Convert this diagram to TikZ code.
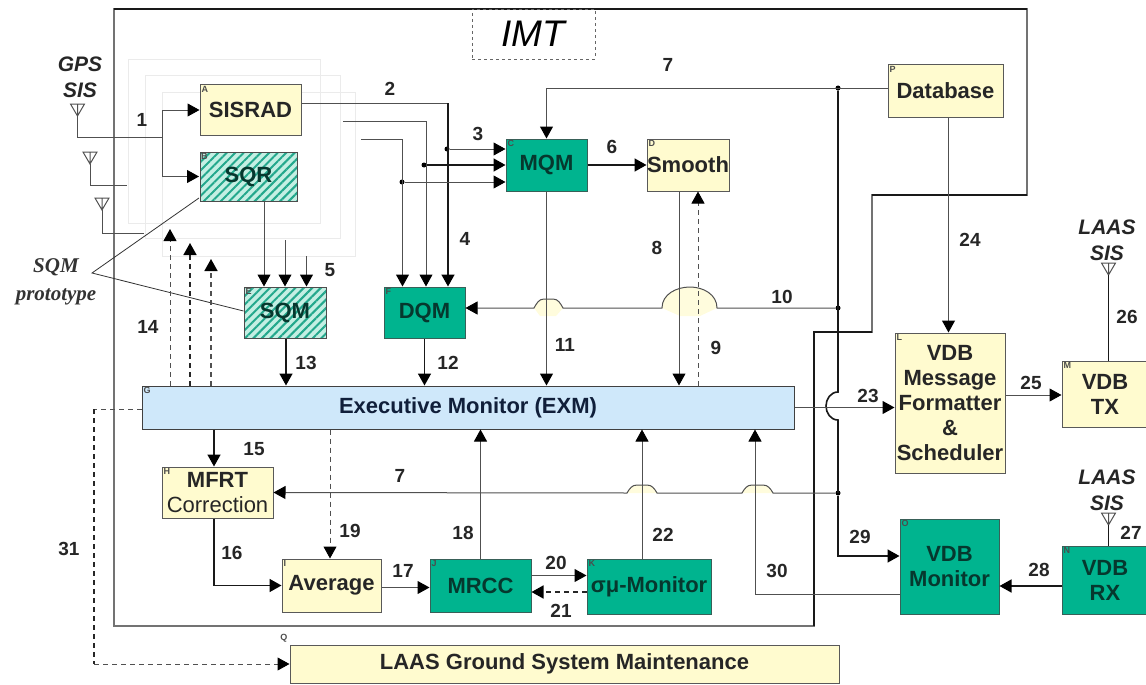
\documentclass[tikz,border=0pt]{standalone}
\usepackage{fontspec}
\setmainfont{Liberation Sans}
\newfontfamily\protofont{Liberation Serif}
\usetikzlibrary{arrows.meta,patterns.meta}
\definecolor{paleyellow}{HTML}{FFFBCF}
\definecolor{tealbox}{HTML}{00B48F}
\definecolor{tealtext}{HTML}{06382E}
\definecolor{hatchbase}{HTML}{C4EFE3}
\definecolor{hatchline}{HTML}{23A88C}
\definecolor{exmblue}{HTML}{CFE8FA}
\definecolor{exmtext}{HTML}{101F3A}
\definecolor{linegray}{HTML}{505050}
\tikzset{
  yellowbox/.style={draw=black!65,line width=1,fill=paleyellow,inner sep=0,align=center,text=black!85,font=\fontsize{22}{25}\selectfont\bfseries},
  tealnode/.style={draw=tealtext!80,line width=1,fill=tealbox,inner sep=0,align=center,text=tealtext,font=\fontsize{22}{25}\selectfont\bfseries},
  hatchbox/.style={draw=black!70,line width=1,preaction={fill=hatchbase},pattern={Lines[angle=45,distance=6pt,line width=2pt]},pattern color=hatchline,inner sep=0,text=tealtext,font=\fontsize{22}{25}\selectfont\bfseries},
  exmbox/.style={draw=black!75,line width=1,fill=exmblue,inner sep=0,text=exmtext,font=\fontsize{22}{25}\selectfont\bfseries},
  tag/.style={anchor=north west,inner sep=2,font=\fontsize{9}{9}\selectfont\bfseries,text=black!70},
  num/.style={inner sep=0,text=black!85,font=\fontsize{19}{19}\selectfont\bfseries},
  sislabel/.style={inner sep=0,align=center,text=black!85,font=\fontsize{21}{26}\selectfont\bfseries\itshape},
  thinline/.style={draw=linegray,line width=1},
  thickline/.style={draw=black!90,line width=1.6},
  dashline/.style={draw=linegray,line width=1,dash pattern=on 5pt off 4pt},
  thickdash/.style={draw=black!85,line width=1.6,dash pattern=on 5pt off 4pt},
  tip/.style={-{Triangle[length=12pt,width=13pt,black]}},
  busdot/.style={circle,fill=black,inner sep=0,minimum size=5},
  glow/.style={fill=paleyellow!70},
  shadowline/.style={draw=black!8,line width=1},
}
\begin{document}
\begin{tikzpicture}[x=1pt,y=-1pt]
    \useasboundingbox (0,0) rectangle (1146,685);
    % stacked receiver outlines
    \draw[shadowline] (162,92) rectangle (355,256);
    \draw[shadowline] (145,76) rectangle (340,238);
    \draw[shadowline] (128,60) rectangle (320,223);

    % IMT boundary
    \draw[black!55,line width=1.4] (114,9) -- (1027,9) -- (1027,195) -- (872,195) -- (872,332) -- (814,332) -- (814,626) -- (114,626) -- cycle;
    \draw[black!90,line width=1.4] (114,9) -- (1027,9) (1027,195) -- (872,195) (872,332) -- (814,332) -- (814,626);
    \node[draw=black!60,dashed,line width=.8,minimum width=123,minimum height=50,inner sep=0,font=\fontsize{37}{37}\selectfont\itshape,text=black] (imt) at (533.5,34) {IMT};

    % boxes
    \node[yellowbox,minimum width=101,minimum height=50] (sisrad) at (250.5,110) {SISRAD};
    \node[hatchbox,minimum width=97,minimum height=49] (sqr) at (248.5,176.5) {SQR};
    \node[tealnode,minimum width=81,minimum height=52] (mqm) at (546.5,165) {MQM};
    \node[yellowbox,minimum width=82,minimum height=52] (smooth) at (688,165) {Smooth};
    \node[yellowbox,minimum width=115,minimum height=52] (database) at (945.5,91) {Database};
    \node[hatchbox,minimum width=82,minimum height=51] (sqm) at (285,312.5) {SQM};
    \node[tealnode,minimum width=81,minimum height=51] (dqm) at (424.5,312.5) {DQM};
    \node[exmbox,minimum width=652,minimum height=43] (exm) at (468,407.5) {Executive Monitor (EXM)};
    \node[yellowbox,minimum width=111,minimum height=51] (mfrt) at (217.5,492.5) {MFRT\\{\mdseries Correction}};
    \node[yellowbox,minimum width=99,minimum height=53] (average) at (331.5,585.5) {Average};
    \node[tealnode,minimum width=101,minimum height=53] (mrcc) at (480.5,585.5) {MRCC};
    \node[tealnode,minimum width=124,minimum height=55] (sigmamu) at (649,586.5) {σμ-Monitor};
    \node[yellowbox,minimum width=110,minimum height=140] (formatter) at (950,403) {VDB\\Message\\Formatter\\\&\\Scheduler};
    \node[yellowbox,minimum width=86,minimum height=66] (vdbtx) at (1105,394) {VDB\\TX};
    \node[tealnode,minimum width=99,minimum height=95] (vdbmon) at (949.5,566.5) {VDB\\Monitor};
    \node[tealnode,minimum width=86,minimum height=68] (vdbrx) at (1105,580) {VDB\\RX};
    \node[yellowbox,minimum width=549,minimum height=38] (ground) at (564.5,664) {LAAS Ground System Maintenance};

    % letters in the corners
    \node[tag] (tagA) at (sisrad.north west) {A};
    \node[tag] (tagB) at (sqr.north west) {B};
    \node[tag] (tagC) at (mqm.north west) {C};
    \node[tag] (tagD) at (smooth.north west) {D};
    \node[tag] (tagE) at (sqm.north west) {E};
    \node[tag] (tagF) at (dqm.north west) {F};
    \node[tag] (tagG) at (exm.north west) {G};
    \node[tag] (tagH) at (mfrt.north west) {H};
    \node[tag] (tagI) at (average.north west) {I};
    \node[tag] (tagJ) at (mrcc.north west) {J};
    \node[tag] (tagK) at (sigmamu.north west) {K};
    \node[tag] (tagL) at (formatter.north west) {L};
    \node[tag] (tagM) at (vdbtx.north west) {M};
    \node[tag] (tagN) at (vdbrx.north west) {N};
    \node[tag] (tagO) at (vdbmon.north west) {O};
    \node[tag] (tagP) at (database.north west) {P};
    \node[tag,anchor=south east] (tagQ) at (ground.north west) {Q};

    % antenna feet and free ends
    \coordinate (ant1) at (77.5,116);
    \coordinate (ant2) at (90,164);
    \coordinate (ant3) at (102,210);
    \coordinate (ant4) at (1108.5,275);
    \coordinate (ant5) at (1108.5,525);
    \coordinate (split1) at (162,137);
    \coordinate (end2) at (127,185);
    \coordinate (end3) at (144,233);
    \coordinate (corner2) at (448,103);
    \coordinate (feed2) at (343,121.5);
    \coordinate (feed3) at (361,139);
    \coordinate (sqm2) at (285,240);
    \coordinate (sqm3) at (306.5,256);
    \coordinate (prot) at (92,273);
    \coordinate (turn31) at (94,409);
    \node[busdot] (dot3) at (447,149) {};
    \node[busdot] (dot4) at (424,165) {};
    \node[busdot] (dot5) at (402,182) {};
    \node[busdot] (dot7) at (838,88) {};
    \node[busdot] (dot10) at (838,308) {};
    \node[busdot] (dot7b) at (838,493) {};

    % antennas
    \draw[thinline] (ant1) -- ++(-7,-12) -- ++(14,0) -- cycle (ant1) -- ++(0,-12);
    \draw[thinline] (ant2) -- ++(-7,-12) -- ++(14,0) -- cycle (ant2) -- ++(0,-12);
    \draw[thinline] (ant3) -- ++(-7,-12) -- ++(14,0) -- cycle (ant3) -- ++(0,-12);
    \draw[thinline] (ant4) -- ++(-7,-12) -- ++(14,0) -- cycle (ant4) -- ++(0,-12);
    \draw[thinline] (ant5) -- ++(-7,-12) -- ++(14,0) -- cycle (ant5) -- ++(0,-12);
    \node[sislabel] (gps) at (80,77) {GPS\\SIS};
    \node[sislabel] (laas1) at (1107,240.5) {LAAS\\SIS};
    \node[sislabel] (laas2) at (1107,490) {LAAS\\SIS};

    % GPS inputs
    \draw[thinline] (ant1) |- (split1);
    \draw[thinline,tip] (split1) |- (sisrad.west);
    \draw[thinline,tip] (split1) |- (sqr.west);
    \draw[thinline] (ant2) |- (end2);
    \draw[thinline] (ant3) |- (end3);

    % SQM prototype
    \node[inner sep=0,align=center,text=black!80,font=\protofont\fontsize{21}{28}\selectfont\bfseries\itshape] (proto) at (56,282) {SQM\\prototype};
    \draw[black!80,line width=.8] ([yshift=4]sqr.south west) -- (prot) -- ([yshift=1.5]sqm.west);

    % into SQM
    \draw[thinline,tip] ([xshift=15.5]sqr.south) -- ([xshift=-21]sqm.north);
    \draw[thinline,tip] (sqm2) -- (sqm.north);
    \draw[thinline,tip] (sqm3) -- (sqm3 |- sqm.north);

    % into DQM and MQM
    \draw[thinline] ([yshift=7]sisrad.east) -- (corner2);
    \draw[thickline,tip] (corner2) -- ([xshift=23.5]dqm.north);
    \draw[thinline,tip] (feed2) -| ([xshift=1.5]dqm.north);
    \draw[thinline,tip] (feed3) -| ([xshift=-22]dqm.north);
    \draw[thinline,tip] (dot3) -- (mqm.west |- dot3);
    \draw[thickline,tip] (dot4) -- (mqm.west |- dot4);
    \draw[thinline,tip] (dot5) -- (mqm.west |- dot5);
    \draw[thickline,tip] (mqm.east) -- (smooth.west);
    \draw[thinline,tip] (database.west |- dot7) -- (mqm.north |- dot7) -- (mqm.north);

    % hop shading
    \fill[glow] (534,308) to[out=60,in=180] (544,299) -- (553,299) to[out=0,in=120] (563,308) -- (556,316) -- (540,316) -- cycle;
    \fill[glow] (662,308) to[out=90,in=180] (690,287) to[out=0,in=90] (717,308) -- (700,316) -- (680,316) -- cycle;
    \fill[glow] (627,493) to[out=60,in=180] (637,485) -- (647,485) to[out=0,in=120] (657,493) -- cycle;
    \fill[glow] (742,493) to[out=60,in=180] (752,485) -- (763,485) to[out=0,in=120] (773,493) -- cycle;

    % data bus
    \draw[thickline] (dot7) -- (838,392) to[out=180,in=90] (826,406) to[out=-90,in=180] (838,420) -- (dot10 |- dot7b);
    \draw[thickline,tip] (dot7b) |- ([yshift=10.5]vdbmon.west);
    \draw[thinline,tip] (dot10) -- (717,308) to[out=90,in=0] (690,287) to[out=180,in=90] (662,308) -- (563,308) to[out=120,in=0] (553,299) -- (544,299) to[out=180,in=60] (534,308) -- (dqm.east |- dot10);
    \draw[thinline,tip] (dot7b) -- (773,493) to[out=120,in=0] (763,485) -- (752,485) to[out=180,in=60] (742,493) -- (657,493) to[out=120,in=0] (647,485) -- (637,485) to[out=180,in=60] (627,493) -- (mfrt.east);

    % into EXM from above
    \draw[thickline,tip] ([xshift=1]sqm.south) -- ([xshift=1]sqm.south |- exm.north);
    \draw[thickline,tip] (dqm.south) -- (dqm.south |- exm.north);
    \draw[thinline,tip] (mqm.south) -- (mqm.south |- exm.north);
    \draw[thinline,tip] ([xshift=-9]smooth.south) -- ([xshift=-9]smooth.south |- exm.north);
    \draw[dashline,tip] ([xshift=10]smooth.south |- exm.north) -- ([xshift=10]smooth.south);

    % EXM feedback
    \coordinate (back1) at (170,229);
    \coordinate (back2) at (190,243);
    \coordinate (back3) at (211,259);
    \draw[dashline,tip] (back1 |- exm.north) -- (back1);
    \draw[thickdash,tip] (back2 |- exm.north) -- (back2);
    \draw[dashline,line width=1.6,tip] (back3 |- exm.north) -- (back3);

    % below EXM
    \draw[thickline,tip] (exm.south -| mfrt.south) ++(-3.5,0) -- ([xshift=-3.5]mfrt.north);
    \draw[dashline,tip] (exm.south -| average.north) ++(-1.5,0) -- ([xshift=-1.5]average.north);
    \draw[thickline,tip] ([xshift=-3.5]mfrt.south) |- (average.west);
    \draw[thinline,tip] ([yshift=-2]average.east) -- ([yshift=-2]mrcc.west);
    \draw[thinline,tip] (mrcc.north) -- (mrcc.north |- exm.south);
    \draw[thinline,tip] ([xshift=-7]sigmamu.north) -- ([xshift=-7]sigmamu.north |- exm.south);
    \draw[thinline,tip] ([yshift=10]mrcc.east) -- ([yshift=11]sigmamu.west);
    \draw[thickdash,tip] ([yshift=-5.5]sigmamu.west) -- ([yshift=-6.5]mrcc.east);
    \draw[thinline,tip] ([yshift=-27.5]vdbmon.west) -| ([xshift=287]exm.south);

    % VDB chain
    \draw[thinline,tip] (exm.east) -- (exm.east -| formatter.west);
    \draw[thinline,tip] ([xshift=3]database.south) -- ([xshift=3]database.south |- formatter.north);
    \draw[thinline,tip] ([yshift=8]formatter.east) -- ([yshift=8]formatter.east -| vdbtx.west);
    \draw[thickline] (ant4) -- (ant4 |- vdbtx.north);
    \draw[thickline] (ant5) -- (ant5 |- vdbrx.north);
    \draw[thickline,tip] ([yshift=-6]vdbrx.west) -- ([yshift=-6]vdbrx.west -| vdbmon.east);

    % to maintenance
    \draw[dashline] (exm.west |- turn31) -- (turn31);
    \draw[thickdash] (turn31) -- (turn31 |- ground.west);
    \draw[dashline,tip] (turn31 |- ground.west) -- (ground.west);

    % numbers
    \node[num] (n1) at (142,120) {1};
    \node[num] (n2) at (390,89) {2};
    \node[num] (n3) at (478,134) {3};
    \node[num] (n4) at (465,239) {4};
    \node[num] (n5) at (330,270) {5};
    \node[num] (n6) at (612,147) {6};
    \node[num] (n7) at (668,65) {7};
    \node[num] (n7b) at (400,476) {7};
    \node[num] (n8) at (657,248) {8};
    \node[num] (n9) at (716,348) {9};
    \node[num] (n10) at (782,297) {10};
    \node[num] (n11) at (565,345) {11};
    \node[num] (n12) at (448,363) {12};
    \node[num] (n13) at (306,363) {13};
    \node[num] (n14) at (148,327) {14};
    \node[num] (n15) at (254,449) {15};
    \node[num] (n16) at (232,553) {16};
    \node[num] (n17) at (403,571) {17};
    \node[num] (n18) at (463,533) {18};
    \node[num] (n19) at (350,531) {19};
    \node[num] (n20) at (556,563) {20};
    \node[num] (n21) at (561,611) {21};
    \node[num] (n22) at (663,535) {22};
    \node[num] (n23) at (868,396) {23};
    \node[num] (n24) at (970,240) {24};
    \node[num] (n25) at (1031,383) {25};
    \node[num] (n26) at (1127,317) {26};
    \node[num] (n27) at (1131,533) {27};
    \node[num] (n28) at (1039,570) {28};
    \node[num] (n29) at (860,537) {29};
    \node[num] (n30) at (777,571) {30};
    \node[num] (n31) at (69,549) {31};
\end{tikzpicture}
\end{document}
